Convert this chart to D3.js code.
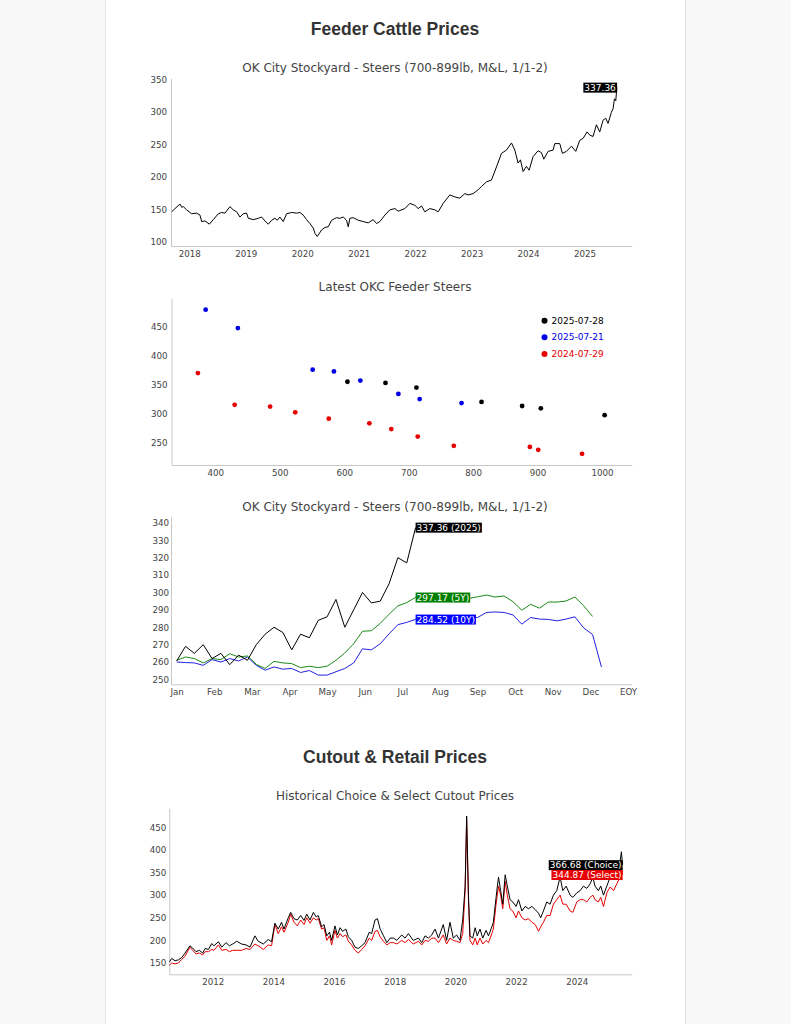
<!DOCTYPE html>
<html><head><meta charset="utf-8">
<script src="https://cdn.jsdelivr.net/npm/d3@7"></script>
<style>
html,body{margin:0;padding:0;background:#f8f8f8;}
#panel{position:absolute;left:105px;top:0;width:581px;height:1024px;background:#fff;border-left:1px solid #e3e3e3;border-right:1px solid #e3e3e3;box-sizing:border-box;}
svg{position:absolute;left:0;top:0;}
</style></head>
<body><div id="panel"></div><svg id="c" width="791" height="1024"></svg>
<script>
// ---------- DATA ----------
const feederYears = [2017.688,2017.747,2017.835,2017.865,2017.894,2017.953,2018.042,2018.130,2018.189,2018.219,2018.278,2018.355,2018.425,2018.514,2018.573,2018.632,2018.720,2018.779,2018.838,2018.897,2018.956,2019.015,2019.045,2019.133,2019.222,2019.281,2019.340,2019.399,2019.458,2019.517,2019.558,2019.605,2019.664,2019.723,2019.812,2019.900,2019.959,2020.018,2020.077,2020.136,2020.195,2020.225,2020.266,2020.343,2020.402,2020.461,2020.520,2020.608,2020.667,2020.726,2020.785,2020.815,2020.844,2020.903,2020.992,2021.080,2021.169,2021.257,2021.316,2021.375,2021.464,2021.552,2021.641,2021.700,2021.818,2021.906,2021.995,2022.054,2022.113,2022.172,2022.260,2022.349,2022.408,2022.496,2022.614,2022.703,2022.791,2022.880,2022.939,2023.027,2023.116,2023.175,2023.263,2023.352,2023.440,2023.529,2023.617,2023.706,2023.765,2023.823,2023.865,2023.912,2023.971,2024.018,2024.089,2024.177,2024.237,2024.278,2024.354,2024.443,2024.473,2024.561,2024.608,2024.679,2024.768,2024.844,2024.915,2024.974,2025.045,2025.092,2025.151,2025.210,2025.269,2025.328,2025.375,2025.416,2025.475,2025.505,2025.530,2025.553,2025.572];
const feederPrices = [146,151,158,153,154,149,143,144,141,131,132,127,134,143,145,144,154,149,146,138,143,144,136,134,136,138,132,127,133,136,133,138,131,143,145,144,145,141,134,128,121,113,108,118,122,123,133,137,136,138,133,123,136,137,133,131,129,134,128,131,141,149,151,147,151,159,156,151,155,146,151,149,146,159,172,169,167,174,172,174,180,185,192,195,215,236,241,252,241,221,226,208,216,210,231,240,237,227,239,241,251,251,236,239,247,239,256,259,269,264,262,280,269,287,290,282,299,305,320,317,337.36];
const feederYTicks = [100,150,200,250,300,350];
const feederXTicks = [2018,2019,2020,2021,2022,2023,2024,2025];

const scatterDates = ['2025-07-28','2025-07-21','2024-07-29'];
const weights0728 = [605,664,712,813,876,905,1004];
const prices0728  = [355,353,345,320,313,309,297];
const weights0721 = [385,435,551,584,625,684,717,782];
const prices0721  = [480,448,376,373,357,334,325,318];
const weights0729 = [373,430,485,524,576,639,673,714,770,888,901,969];
const prices0729  = [370,315,312,302,291,283,273,260,244,242,237,230];
const scatterXTicks = [400,500,600,700,800,900,1000];
const scatterYTicks = [250,300,350,400,450];

const seasonLabels = ['Jan','Feb','Mar','Apr','May','Jun','Jul','Aug','Sep','Oct','Nov','Dec','EOY'];
const season2025 = [260.6,269,265,270,262,265,258.5,264,261,270,276,280,277,267,276,274,284,286,296,280,290,300,294,295,305,320,317,337.36];
const season5Y = [261,262.9,262,259.5,262,261.4,264.8,262.9,263.5,258.7,256.3,260.4,259.5,259.1,256.8,257.6,256.8,257.6,261,265.2,270.5,277.7,278,282.2,287.5,292.3,294.2,297.17,297.5,298,297,297.5,296.5,296.6,297.5,298.5,297.4,298,294.7,289.8,293.2,291,294.5,294.5,295.1,297.4,292.3,286.2];
const season10Y = [260,259.7,259.5,258.1,261.4,260,262,260.6,262.9,258.1,255.3,257.2,255.9,256.3,254,255.1,252.5,252.5,254.4,256.3,259.5,267.6,267,270.5,276.2,281.5,282.8,284.52,285,285.5,286,286,285.5,285.5,285.6,288.5,288.8,288.5,287.1,281.8,285.6,284.7,284.5,283.7,284.7,286,279.6,275.8,257.2];
const seasonYTicks = [250,260,270,280,290,300,310,320,330,340];

const cutoutYears = [2010.57,2010.65,2010.76,2010.87,2010.98,2011.09,2011.25,2011.34,2011.45,2011.56,2011.67,2011.75,2011.86,2011.97,2012.04,2012.19,2012.30,2012.44,2012.55,2012.66,2012.79,2012.95,2013.10,2013.23,2013.39,2013.50,2013.67,2013.83,2013.94,2014.05,2014.16,2014.27,2014.35,2014.49,2014.57,2014.68,2014.79,2014.90,2015.01,2015.10,2015.21,2015.32,2015.41,2015.48,2015.59,2015.67,2015.76,2015.85,2015.92,2016.03,2016.11,2016.20,2016.28,2016.39,2016.47,2016.58,2016.69,2016.80,2016.91,2017.02,2017.16,2017.24,2017.35,2017.43,2017.52,2017.63,2017.74,2017.85,2017.96,2018.07,2018.23,2018.34,2018.45,2018.61,2018.78,2018.89,2019.00,2019.11,2019.22,2019.33,2019.44,2019.60,2019.71,2019.82,2019.93,2020.04,2020.15,2020.24,2020.32,2020.37,2020.43,2020.48,2020.57,2020.65,2020.72,2020.81,2020.90,2021.01,2021.09,2021.20,2021.25,2021.34,2021.42,2021.49,2021.56,2021.64,2021.71,2021.80,2021.89,2022.00,2022.08,2022.19,2022.30,2022.41,2022.52,2022.63,2022.74,2022.81,2022.90,2023.01,2023.12,2023.23,2023.34,2023.45,2023.54,2023.65,2023.78,2023.87,2024.00,2024.11,2024.22,2024.33,2024.44,2024.53,2024.60,2024.71,2024.79,2024.88,2024.99,2025.10,2025.21,2025.32,2025.43,2025.47,2025.51];
const choicePrices = [152,160,155,157,162,172,188,183,175,178,172,182,180,193,188,197,185,195,188,192,198,192,190,185,210,198,192,202,197,238,225,240,225,250,262,248,245,255,244,258,245,262,252,255,230,235,210,218,200,232,212,228,220,225,208,200,185,182,188,195,218,215,245,248,225,210,195,205,205,200,212,205,215,200,205,195,210,205,212,225,205,235,200,240,205,212,200,245,320,475,300,210,205,228,210,225,205,222,210,230,240,295,340,310,280,345,320,290,285,275,290,265,275,270,275,268,260,250,265,285,280,300,310,340,310,320,300,295,305,310,320,315,325,340,320,310,320,300,320,340,335,345,375,396,366.68];
const selectPrices = [145,150,148,150,158,165,185,178,170,172,168,175,175,180,178,190,178,180,175,178,178,178,182,180,192,188,180,190,188,235,215,230,218,240,258,240,232,245,235,250,238,250,245,248,225,228,200,210,190,222,205,215,208,212,198,190,178,172,180,188,205,200,220,222,208,198,190,195,195,192,200,195,202,192,198,190,200,198,205,205,195,212,192,205,200,198,195,215,310,465,290,200,190,205,190,205,192,200,195,215,225,280,320,300,270,330,300,270,265,250,265,250,245,248,240,235,220,230,240,255,255,280,290,300,280,280,265,262,285,290,290,285,295,300,290,285,295,275,305,318,310,325,340,365,344.87];
const cutoutXTicks = [2012,2014,2016,2018,2020,2022,2024];
const cutoutYTicks = [150,200,250,300,350,400,450];

// ---------- DRAWING ----------
const FONT = "'DejaVu Sans', Verdana, sans-serif";
const svg = d3.select('#c');

function heading(text, y){
  svg.append('text').attr('x',395).attr('y',y).attr('text-anchor','middle')
    .style('font',"bold 17.5px 'Liberation Sans', Arial, sans-serif").attr('fill','#333').text(text);
}
function subtitle(text, y){
  svg.append('text').attr('x',395).attr('y',y).attr('text-anchor','middle')
    .style('font',`12px ${FONT}`).attr('fill','#444').text(text);
}
function drawAxes(x, y, xTicks, xFmt, yTicks, yPad){
  const [y0] = y.range();
  const [x0] = x.range();
  const gx = svg.append('g').attr('transform',`translate(0,${y0})`)
    .call(d3.axisBottom(x).tickValues(xTicks).tickFormat(xFmt).tickSize(0).tickPadding(5));
  const gy = svg.append('g').attr('transform',`translate(${x0},0)`)
    .call(d3.axisLeft(y).tickValues(yTicks).tickSize(0).tickPadding(yPad));
  [gx,gy].forEach(g=>{
    g.select('.domain').attr('stroke','#c8c8c8').attr('stroke-width',1);
    g.selectAll('text').style('font',`8.7px ${FONT}`).attr('fill','#444');
  });
}
function tag(x, y, text, bg, anchor){
  const g = svg.append('g');
  const t = g.append('text').attr('x',x).attr('y',y).attr('dy','0.35em').attr('text-anchor',anchor)
    .style('font',`9px ${FONT}`).attr('fill','#fff').text(text);
  const b = t.node().getBBox();
  g.insert('rect',()=>t.node()).attr('x',b.x-1).attr('y',b.y).attr('width',b.width+2).attr('height',b.height).attr('fill',bg);
}

// Chart 1
heading('Feeder Cattle Prices', 35);
subtitle('OK City Stockyard - Steers (700-899lb, M&L, 1/1-2)', 72);
{
  const x = d3.scaleLinear().domain([2017.676,2025.835]).range([171,631.7]);
  const y = d3.scaleLinear().domain([93.4,351.5]).range([246,78.3]);
  drawAxes(x,y,feederXTicks,d3.format('d'),feederYTicks,4);
  const pts = feederYears.map((d,i)=>[d,feederPrices[i]]);
  svg.append('path').datum(pts).attr('fill','none').attr('stroke','#000').attr('stroke-width',1)
    .attr('d',d3.line().x(d=>x(d[0])).y(d=>y(d[1])));
  const last = pts[pts.length-1];
  tag(x(last[0])-1, y(last[1]), last[1].toFixed(2), '#000', 'end');
}

// Chart 2
subtitle('Latest OKC Feeder Steers', 291);
{
  const x = d3.scaleLinear().domain([332,1046]).range([171.5,631.7]);
  const y = d3.scaleLinear().domain([210.7,499.7]).range([465,298.3]);
  drawAxes(x,y,scatterXTicks,d3.format('d'),scatterYTicks,4);
  const sets = [[weights0728,prices0728,'#000'],[weights0721,prices0721,'#0000e6'],[weights0729,prices0729,'#e60000']];
  sets.forEach(([w,p,c])=>{
    svg.append('g').selectAll('circle').data(w.map((d,i)=>[d,p[i]])).join('circle')
      .attr('cx',d=>x(d[0])).attr('cy',d=>y(d[1])).attr('r',2.4).attr('fill',c);
  });
  const lg = svg.append('g');
  scatterDates.forEach((d,i)=>{
    const yy = 320.7 + i*16.6;
    lg.append('circle').attr('cx',544.5).attr('cy',yy).attr('r',3).attr('fill',sets[i][2]);
    lg.append('text').attr('x',551.5).attr('y',yy).attr('dy','0.35em').style('font',`9px ${FONT}`).attr('fill',sets[i][2]).text(d);
  });
}

// Chart 3
subtitle('OK City Stockyard - Steers (700-899lb, M&L, 1/1-2)', 510.5);
{
  const x = d3.scaleLinear().domain([-0.64,51.42]).range([171,631.7]);
  const y = d3.scaleLinear().domain([247.2,343.4]).range([684.3,517]);
  const tickVals = seasonLabels.map((d,i)=> i<12 ? i*51/12 : 51);
  drawAxes(x,y,tickVals,(d,i)=>seasonLabels[i],seasonYTicks,2);
  const line = d3.line().x((d,i)=>x(i)).y(d=>y(d));
  svg.append('path').datum(season10Y).attr('fill','none').attr('stroke','#2020e0').attr('stroke-width',1).attr('d',line);
  svg.append('path').datum(season5Y).attr('fill','none').attr('stroke','#1a8a1a').attr('stroke-width',1).attr('d',line);
  svg.append('path').datum(season2025).attr('fill','none').attr('stroke','#000').attr('stroke-width',1).attr('d',line);
  const li = season2025.length-1;
  tag(x(li)+1, y(season2025[li]), `${season2025[li].toFixed(2)} (2025)`, '#000', 'start');
  tag(x(li)+1, y(season5Y[li]), `${season5Y[li].toFixed(2)} (5Y)`, '#008000', 'start');
  tag(x(li)+1, y(season10Y[li]), `${season10Y[li].toFixed(2)} (10Y)`, '#0000ff', 'start');
}

// Chart 4
heading('Cutout & Retail Prices', 763);
subtitle('Historical Choice & Select Cutout Prices', 800);
{
  const x = d3.scaleLinear().domain([2010.57,2025.81]).range([169.3,631.7]);
  const y = d3.scaleLinear().domain([125,492]).range([974.3,808.3]);
  drawAxes(x,y,cutoutXTicks,d3.format('d'),cutoutYTicks,3);
  const line = d3.line().x(d=>x(d[0])).y(d=>y(d[1]));
  const sel = cutoutYears.map((d,i)=>[d,selectPrices[i]]);
  const cho = cutoutYears.map((d,i)=>[d,choicePrices[i]]);
  svg.append('path').datum(sel).attr('fill','none').attr('stroke','#e60000').attr('stroke-width',1).attr('d',line);
  svg.append('path').datum(cho).attr('fill','none').attr('stroke','#000').attr('stroke-width',1).attr('d',line);
  const lc = cho[cho.length-1], ls = sel[sel.length-1];
  tag(x(lc[0])-1, y(lc[1]), `${lc[1].toFixed(2)} (Choice)`, '#000', 'end');
  tag(x(ls[0])-1, y(ls[1]), `${ls[1].toFixed(2)} (Select)`, '#e60000', 'end');
}
</script></body></html>
